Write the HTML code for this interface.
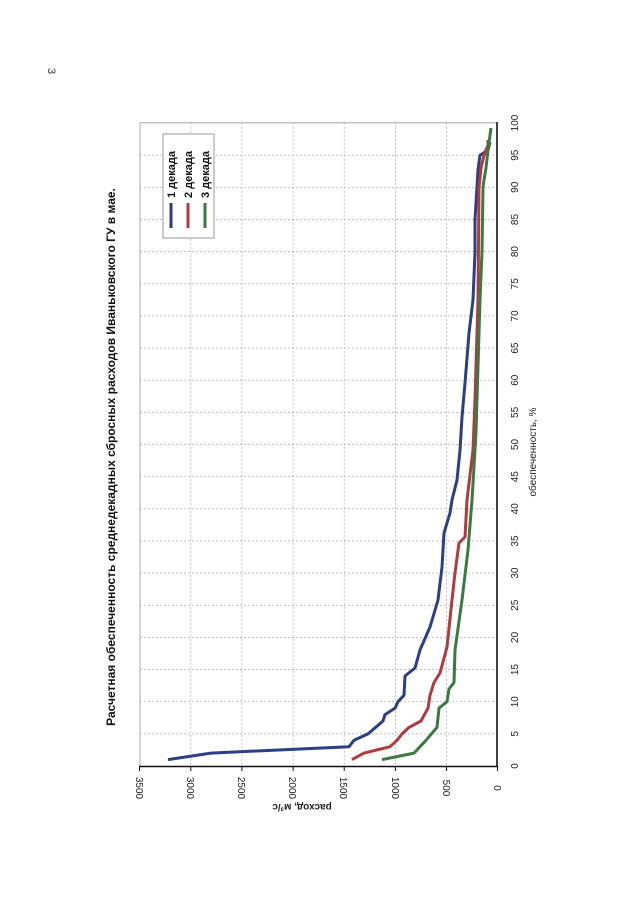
<!DOCTYPE html>
<html><head><meta charset="utf-8"><style>body{margin:0;background:#fff}svg{display:block}</style></head>
<body>
<svg width="640" height="905" xmlns="http://www.w3.org/2000/svg" font-family="Liberation Sans, sans-serif">
<rect width="640" height="905" fill="#fff"/>
<text x="48" y="68" font-size="11" transform="rotate(90 48 68)" fill="#333">3</text>
<g stroke="#aaa" stroke-width="0.7" stroke-dasharray="2,2">
<line x1="140" y1="733.9" x2="496" y2="733.9"/><line x1="140" y1="701.7" x2="496" y2="701.7"/><line x1="140" y1="669.6" x2="496" y2="669.6"/><line x1="140" y1="637.4" x2="496" y2="637.4"/><line x1="140" y1="605.3" x2="496" y2="605.3"/><line x1="140" y1="573.1" x2="496" y2="573.1"/><line x1="140" y1="541" x2="496" y2="541"/><line x1="140" y1="508.8" x2="496" y2="508.8"/><line x1="140" y1="476.7" x2="496" y2="476.7"/><line x1="140" y1="444.5" x2="496" y2="444.5"/><line x1="140" y1="412.4" x2="496" y2="412.4"/><line x1="140" y1="380.2" x2="496" y2="380.2"/><line x1="140" y1="348.1" x2="496" y2="348.1"/><line x1="140" y1="315.9" x2="496" y2="315.9"/><line x1="140" y1="283.8" x2="496" y2="283.8"/><line x1="140" y1="251.6" x2="496" y2="251.6"/><line x1="140" y1="219.5" x2="496" y2="219.5"/><line x1="140" y1="187.3" x2="496" y2="187.3"/><line x1="140" y1="155.2" x2="496" y2="155.2"/>
<line x1="190.8" y1="122.7" x2="190.8" y2="766"/><line x1="241.9" y1="122.7" x2="241.9" y2="766"/><line x1="293.1" y1="122.7" x2="293.1" y2="766"/><line x1="344.2" y1="122.7" x2="344.2" y2="766"/><line x1="395.4" y1="122.7" x2="395.4" y2="766"/><line x1="446.5" y1="122.7" x2="446.5" y2="766"/>
</g>
<line x1="140" y1="122.7" x2="496" y2="122.7" stroke="#aaa" stroke-width="1"/>
<line x1="140" y1="122.7" x2="140" y2="766" stroke="#aaa" stroke-width="1"/>
<line x1="139" y1="766.5" x2="497.6" y2="766.5" stroke="#111" stroke-width="1.6"/>
<line x1="497" y1="122" x2="497" y2="767" stroke="#111" stroke-width="1.6"/>
<g stroke="#111" stroke-width="1">
<line x1="139.5" y1="766" x2="139.5" y2="771"/><line x1="190.8" y1="766" x2="190.8" y2="771"/><line x1="241.9" y1="766" x2="241.9" y2="771"/><line x1="293.1" y1="766" x2="293.1" y2="771"/><line x1="344.2" y1="766" x2="344.2" y2="771"/><line x1="395.4" y1="766" x2="395.4" y2="771"/><line x1="446.5" y1="766" x2="446.5" y2="771"/><line x1="497.6" y1="766" x2="497.6" y2="771"/>
</g>
<g font-size="10" fill="#222" text-anchor="middle">
<text transform="translate(136 788) rotate(90)">3500</text><text transform="translate(187 788) rotate(90)">3000</text><text transform="translate(238 788) rotate(90)">2500</text><text transform="translate(289 788) rotate(90)">2000</text><text transform="translate(340 788) rotate(90)">1500</text><text transform="translate(392 788) rotate(90)">1000</text><text transform="translate(443 788) rotate(90)">500</text><text transform="translate(494 788) rotate(90)">0</text>
</g>
<g font-size="10" fill="#222" text-anchor="middle">
<text transform="translate(518 766) rotate(-90)">0</text><text transform="translate(518 733.9) rotate(-90)">5</text><text transform="translate(518 701.7) rotate(-90)">10</text><text transform="translate(518 669.6) rotate(-90)">15</text><text transform="translate(518 637.4) rotate(-90)">20</text><text transform="translate(518 605.3) rotate(-90)">25</text><text transform="translate(518 573.1) rotate(-90)">30</text><text transform="translate(518 541) rotate(-90)">35</text><text transform="translate(518 508.8) rotate(-90)">40</text><text transform="translate(518 476.7) rotate(-90)">45</text><text transform="translate(518 444.5) rotate(-90)">50</text><text transform="translate(518 412.4) rotate(-90)">55</text><text transform="translate(518 380.2) rotate(-90)">60</text><text transform="translate(518 348.1) rotate(-90)">65</text><text transform="translate(518 315.9) rotate(-90)">70</text><text transform="translate(518 283.8) rotate(-90)">75</text><text transform="translate(518 251.6) rotate(-90)">80</text><text transform="translate(518 219.5) rotate(-90)">85</text><text transform="translate(518 187.3) rotate(-90)">90</text><text transform="translate(518 155.2) rotate(-90)">95</text><text transform="translate(518 123) rotate(-90)">100</text>
</g>
<text transform="translate(536 452) rotate(-90)" font-size="10" fill="#222" text-anchor="middle">обеспеченность, %</text>
<text transform="translate(302 804) rotate(180)" font-size="10" font-weight="bold" fill="#222" text-anchor="middle">расход, м³/с</text>
<text transform="translate(115 457) rotate(-90)" font-size="12" font-weight="bold" fill="#111" text-anchor="middle">Расчетная обеспеченность среднедекадных сбросных расходов Иваньковского ГУ в мае.</text>
<g fill="none" stroke-width="3" stroke-linejoin="round">
<polyline stroke="#2b3f86" points="168,759.6 211,753.1 349,746.7 354,740.3 368,733.9 383,721 385,714.6 395,708.1 398,701.7 404,695.3 405,676 415,668 420,650 430,627 438,600 442,567 444,533 450,513 452,500 457,480 460,450 462,417 465,383 469,333 473,300 475,251.6 475,219.5 478,170 480,155.2 488,150 490,142"/>
<polyline stroke="#b03a3e" points="352,759.6 364,753.1 390,746.7 397,740.3 402,733.9 409,727.4 421,721 428,708.1 430,695.3 434,682.5 440,673 447,647 452,600 455,573 459,543 465,537 467,500 473,450 475,400 478,300 479,187.3 481,168 484,155.2 488,145 488,140"/>
<polyline stroke="#3b7a40" points="382,759.6 414,753.1 420,746.7 426,740.3 437,727.4 439,708.1 447,701.7 449,689 454,682.5 455,650 462,600 468,550 472,500 476,433 480,300 482,251.6 483,187.3 484,180 486,168 488,150 491,128"/>
</g>
<rect x="163" y="134" width="51" height="104" fill="#fff" stroke="#999" stroke-width="1"/>
<g stroke-width="3"><line x1="171" y1="203" x2="171" y2="228" stroke="#2b3f86"/><line x1="188" y1="203" x2="188" y2="228" stroke="#b03a3e"/><line x1="205" y1="203" x2="205" y2="228" stroke="#3b7a40"/></g>
<g font-size="11" font-weight="bold" fill="#111"><text transform="translate(175 198) rotate(-90)">1 декада</text><text transform="translate(192 198) rotate(-90)">2 декада</text><text transform="translate(209 198) rotate(-90)">3 декада</text></g>
</svg>
</body></html>
